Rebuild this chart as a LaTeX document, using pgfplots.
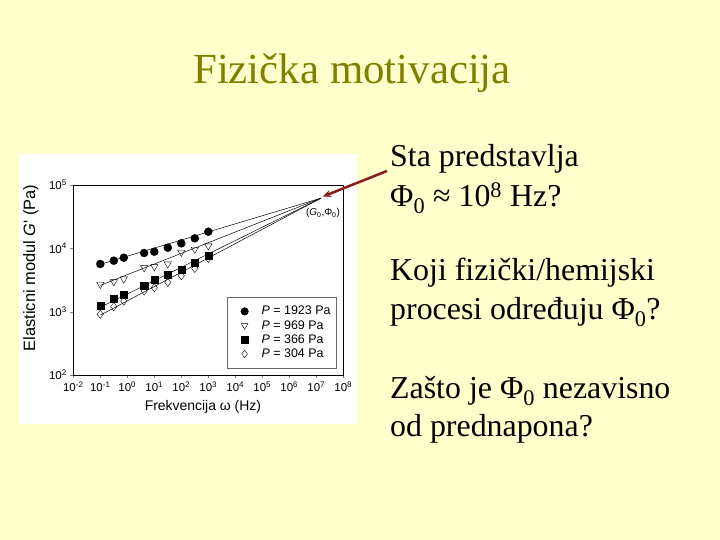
\documentclass[border=0pt]{standalone}
\usepackage{fontspec}
\setmainfont{Liberation Serif}
\newfontfamily\arial{Liberation Sans}
\usepackage{pgfplots}
\pgfplotsset{compat=1.18}
\usetikzlibrary{arrows.meta}
\definecolor{slidebg}{HTML}{FFFFCC}
\definecolor{titleol}{HTML}{808000}
\definecolor{arrred}{HTML}{8B1A1A}
\pgfplotsset{
  lgmark/.style={legend image code/.code={
      \path[draw=none, fill=none] (0bp,-3bp) rectangle (28bp,3bp);
      \draw[##1, mark size=3.8bp] plot coordinates {(13bp,0bp)};}},
}

\begin{document}
\begin{tikzpicture}[x=1bp,y=1bp]
  % slide and pasted figure
  \fill[slidebg] (0,0) rectangle (720,540);
  \fill[white] (19,116) rectangle (357,386);
  \node[anchor=base, text=titleol, font=\fontsize{43}{50}\selectfont, inner sep=0pt]
    at (352,456) {Fizička motivacija};

  \begin{axis}[
      at={(73.3bp,165bp)}, anchor=south west,
      scale only axis, width=270bp, height=190bp,
      xmode=log, ymode=log,
      xmin=1e-2, xmax=1e8, ymin=1e2, ymax=1e5,
      xtick={1e-2,1e-1,1e0,1e1,1e2,1e3,1e4,1e5,1e6,1e7,1e8},
      xticklabels={10\textsuperscript{-2},10\textsuperscript{-1},10\textsuperscript{0},
        10\textsuperscript{1},10\textsuperscript{2},10\textsuperscript{3},10\textsuperscript{4},
        10\textsuperscript{5},10\textsuperscript{6},10\textsuperscript{7},10\textsuperscript{8}},
      ytick={1e2,1e3,1e4,1e5},
      yticklabels={10\textsuperscript{2},10\textsuperscript{3},10\textsuperscript{4},10\textsuperscript{5}},
      xminorticks=false, yminorticks=false,
      tick align=outside, xtick pos=bottom, ytick pos=left,
      major tick length=3bp,
      tick label style={font=\arial\fontsize{11.5}{12}\selectfont},
      xlabel={Frekvencija ω (Hz)},
      ylabel={Elasticni modul \textit{G}' (Pa)},
      xlabel style={font=\arial\fontsize{14}{15}\selectfont,
        at={(axis description cs:0.48,-0.167)}, anchor=center},
      ylabel style={font=\arial\fontsize{16.5}{17}\selectfont,
        at={(axis description cs:-0.157,0.563)}, anchor=center},
      axis line style={line width=0.6bp},
      legend cell align=left,
      legend style={at={(0.9756,0.41)}, anchor=north east, draw=black!60,
        font=\arial\fontsize{12.5}{14}\selectfont, row sep=0pt,
        inner ysep=7bp, inner xsep=4bp},
    ]
    % fitted lines converging at (G0, Phi0)
    \addplot[black, line width=0.5bp, forget plot] coordinates {(0.1,5600) (1.5e7,62000)};
    \addplot[black, line width=0.5bp, forget plot] coordinates {(0.1,2600) (1.5e7,62000)};
    \addplot[black, line width=0.5bp, forget plot] coordinates {(0.1,1170) (1.5e7,62000)};
    \addplot[black, line width=0.5bp, forget plot] coordinates {(0.1,880) (1.5e7,62000)};

    \addplot[only marks, lgmark, mark=*, mark size=4bp, black] coordinates {
      (0.1,5660) (0.316,6380) (0.74,7110) (4.2,8440) (10,8850)
      (31.6,10230) (100,12000) (316,14400) (1000,18300)};
    \addplot[only marks, lgmark, mark=triangle, mark size=4.2bp, black,
      mark options={rotate=180, fill=white}] coordinates {
      (0.1,2700) (0.316,2970) (0.74,3280) (4.2,4950) (10,5130)
      (31.6,5660) (100,8650) (316,9640) (1000,10900)};
    \addplot[only marks, lgmark, mark=square*, mark size=3.6bp, black] coordinates {
      (0.1,1230) (0.316,1585) (0.74,1830) (4.2,2540) (10,3160)
      (31.6,3790) (100,4660) (316,5860) (1000,7650)};
    \addplot[only marks, lgmark, mark=diamond, mark size=4.2bp, black,
      mark options={fill=white}] coordinates {
      (0.1,910) (0.316,1200) (0.74,1470) (4.2,2120) (10,2390)
      (31.6,2910) (100,3700) (316,4830) (1000,6950)};
    \legend{\textit{P} = 1923 Pa, \textit{P} = 969 Pa, \textit{P} = 366 Pa, \textit{P} = 304 Pa}
  \end{axis}

  \node[font=\arial\fontsize{10}{11}\selectfont, inner sep=0pt] at (323,327)
    {(\textit{G}\textsubscript{0},Φ\textsubscript{0})};
  \draw[arrred, line width=2.5bp, -{Stealth[length=8bp,width=7bp]}] (387,369) -- (323,343.5);

  % slide text
  \begin{scope}[every node/.style={anchor=base west, inner sep=0pt,
      font=\fontsize{32}{38}\selectfont}]
    \node at (390,373) {Sta predstavlja};
    \node at (390,333) {Φ\textsubscript{0} ≈ 10\textsuperscript{8} Hz?};
    \node at (390,259) {Koji fizički/hemijski};
    \node at (390,220) {procesi određuju Φ\textsubscript{0}?};
    \node at (390,141) {Zašto je Φ\textsubscript{0} nezavisno};
    \node at (390,103) {od prednapona?};
  \end{scope}
\end{tikzpicture}
\end{document}
